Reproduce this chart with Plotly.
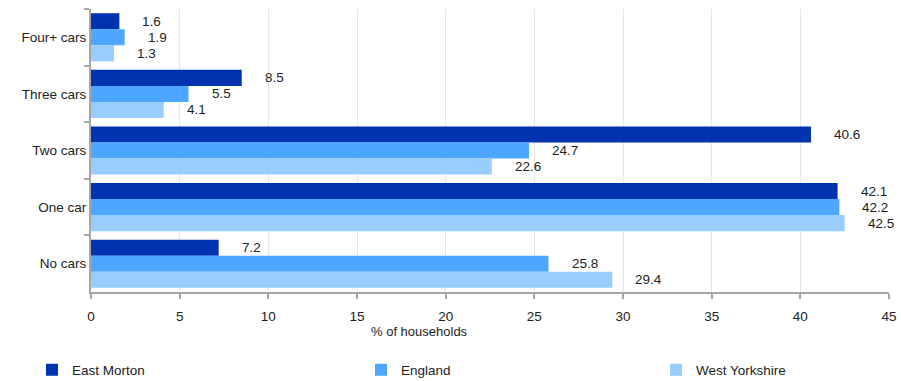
import plotly.graph_objects as go

categories = ["Four+ cars", "Three cars", "Two cars", "One car", "No cars"]
east_morton = [1.6, 8.5, 40.6, 42.1, 7.2]
england = [1.9, 5.5, 24.7, 42.2, 25.8]
west_yorkshire = [1.3, 4.1, 22.6, 42.5, 29.4]
series_names = ["East Morton", "England", "West Yorkshire"]
x_ticks = [0, 5, 10, 15, 20, 25, 30, 35, 40, 45]
x_title = "% of households"

colors = ["#0033b0", "#4da6ff", "#99ccff"]
FONT = "Liberation Sans, Arial, sans-serif"
FS = 13.5

W, H = 901, 381
L, R, T, B = 91, 12, 9, 89
pw = W - L - R
ph = H - T - B

fig = go.Figure()
series = [east_morton, england, west_yorkshire]
legend_ids = ["legend", "legend2", "legend3"]
for name, vals, col, lg in zip(series_names, series, colors, legend_ids):
    fig.add_trace(go.Bar(
        y=categories, x=vals, name=name, orientation="h",
        marker=dict(color=col, line=dict(width=0)),
        legend=lg, hoverinfo="x+name",
    ))

# value labels
shifts = [16, 0, -16]
annotations = []
for vals, ys in zip(series, shifts):
    for cat, v in zip(categories, vals):
        annotations.append(dict(
            x=v, y=cat, xref="x", yref="y", text=f"{v:.1f}",
            showarrow=False, xanchor="left", yanchor="middle",
            xshift=21, yshift=ys,
            font=dict(family=FONT, size=FS, color="#222222"),
        ))

# axis title (offset from centre as in original)
annotations.append(dict(
    x=(419.5 - L) / pw, y=(T + ph - 331) / ph, xref="paper", yref="paper",
    text=x_title, showarrow=False, xanchor="center", yanchor="middle",
    font=dict(family=FONT, size=13, color="#222222"),
))

# legends positioned individually
marker_centers = [52, 381, 676]
leg_common = dict(
    orientation="h", yanchor="middle", xanchor="left",
    font=dict(family=FONT, size=FS, color="#222222"),
    bgcolor="rgba(0,0,0,0)", borderwidth=0,
)
leg_y = (T + ph - 370) / ph
legends = {}
for lg, mc in zip(legend_ids, marker_centers):
    legends[lg] = dict(leg_common, x=(mc - 20 - L) / pw, y=leg_y)

fig.update_layout(
    width=W, height=H,
    margin=dict(l=L, r=R, t=T, b=B, pad=0, autoexpand=False),
    paper_bgcolor="white", plot_bgcolor="white",
    barmode="group", bargap=0.15, bargroupgap=0,
    font=dict(family=FONT, size=FS, color="#222222"),
    showlegend=True,
    annotations=annotations,
    **legends,
)

fig.update_xaxes(
    range=[0, 45], tickvals=x_ticks, ticktext=[str(t) for t in x_ticks],
    showgrid=True, gridcolor="#e6e6e6", gridwidth=1,
    showline=True, linecolor="#a6a6a6", linewidth=2,
    ticks="outside", ticklen=5, tickcolor="#a6a6a6", tickwidth=2,
    ticklabelstandoff=6, zeroline=False, automargin=False,
    tickfont=dict(family=FONT, size=FS, color="#222222"),
)
fig.update_yaxes(
    categoryorder="array", categoryarray=categories, autorange="reversed",
    showline=True, linecolor="#a6a6a6", linewidth=2,
    ticks="outside", ticklen=5, tickcolor="#a6a6a6", tickwidth=2,
    tickson="boundaries", showgrid=False, zeroline=False, automargin=False,
    tickfont=dict(family=FONT, size=FS, color="#222222"),
)

fig.write_html(
    "out.html",
    config={"displayModeBar": False},
    post_script="document.body.style.margin='0px';document.body.style.padding='0px';",
)
